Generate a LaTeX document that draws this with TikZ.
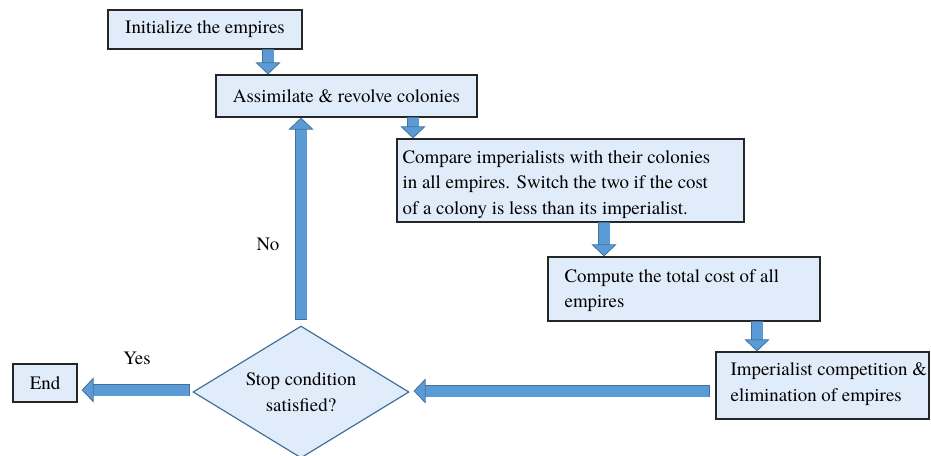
\documentclass[tikz,border=0pt]{standalone}
\usepackage{fontspec}
\setmainfont{texgyretermes}[Extension=.otf, UprightFont=*-regular, BoldFont=*-bold, ItalicFont=*-italic, BoldItalicFont=*-bolditalic]
\usetikzlibrary{shapes.geometric,arrows.meta,calc}
\definecolor{boxfill}{RGB}{225,236,250}
\definecolor{arrfill}{RGB}{91,155,213}
\definecolor{arrdraw}{RGB}{65,113,156}
\begin{document}
\begin{tikzpicture}[x=1pt,y=-1pt,
  every node/.style={font=\rmfamily\fontsize{18.9}{25.5}\selectfont, text=black},
  box/.style={draw=black!85, line width=1.2pt, fill=boxfill, rectangle, inner sep=0pt},
  txt/.style={anchor=west, align=left, inner sep=0pt},
  decision/.style={diamond, draw=arrdraw, line width=1.2pt, fill=boxfill, inner sep=0pt,
    minimum width=216pt, minimum height=132pt, aspect=1.64, align=center},
  blockarrow/.style={line width=11pt, draw=arrfill,
    -{Triangle[length=12pt,width=25pt,fill=arrfill,color=arrdraw,line width=0.8pt 0]},
    preaction={draw=arrdraw, line width=12.6pt, -, shorten >=11pt, shorten <=-0.8pt}},
  lbl/.style={inner sep=0pt}
]
\useasboundingbox (0,0) rectangle (931,455);

\node[box, minimum width=194pt, minimum height=39pt] (init) at (205,29.5) {Initialize the empires};
\node[box, minimum width=261pt, minimum height=42pt] (assim) at (346.5,96) {Assimilate \& revolve colonies};
\node[box, minimum width=347pt, minimum height=83pt] (comp) at (570.5,180.5) {};
\node[txt] (comptxt) at ([xshift=6pt,yshift=-4pt]comp.west)
  {Compare imperialists with their colonies\\in all empires. Switch the two if the cost\\of a colony is less than its imperialist.};
\node[box, minimum width=272pt, minimum height=64pt] (total) at (684,289) {};
\node[txt] (totaltxt) at ([xshift=17pt,yshift=-1.5pt]total.west)
  {Compute the total cost of all\\empires};
\node[box, minimum width=213pt, minimum height=67pt] (compet) at (822.5,385.5) {};
\node[txt] (compettxt) at ([xshift=15pt,yshift=1.5pt]compet.west)
  {Imperialist competition \&\\elimination of empires};
\node[decision] (stop) at (301,392) {Stop condition\\satisfied?};
\node[box, minimum width=64pt, minimum height=38pt] (end) at (45,383) {End};

\node[lbl] (yes) at (137,358) {Yes};
\node[lbl] (no) at (268,244) {No};

\coordinate (a1s) at ([xshift=63pt]init.south);
\draw[blockarrow] (a1s) -- (a1s |- assim.north);
\coordinate (a2s) at ([xshift=66.5pt]assim.south);
\draw[blockarrow] (a2s) -- (a2s |- comp.north);
\coordinate (a3s) at ([xshift=33.5pt]comp.south);
\draw[blockarrow] (a3s) -- (a3s |- total.north);
\coordinate (a4s) at ([xshift=73pt]total.south);
\draw[blockarrow] (a4s) -- (a4s |- compet.north);

\coordinate (a5s) at ([xshift=-6pt,yshift=-5.5pt]compet.west);
\coordinate (se) at ([xshift=4pt]stop.east);
\draw[blockarrow] (a5s) -- (se |- a5s);

\coordinate (a6s) at ([xshift=-3pt,yshift=2pt]stop.west);
\coordinate (ee) at ([xshift=4pt]end.east);
\draw[blockarrow] (a6s) -- (ee |- a6s);

\coordinate (a7s) at ([yshift=6pt]stop.north);
\draw[blockarrow] (a7s) -- (a7s |- assim.south);
\end{tikzpicture}
\end{document}
